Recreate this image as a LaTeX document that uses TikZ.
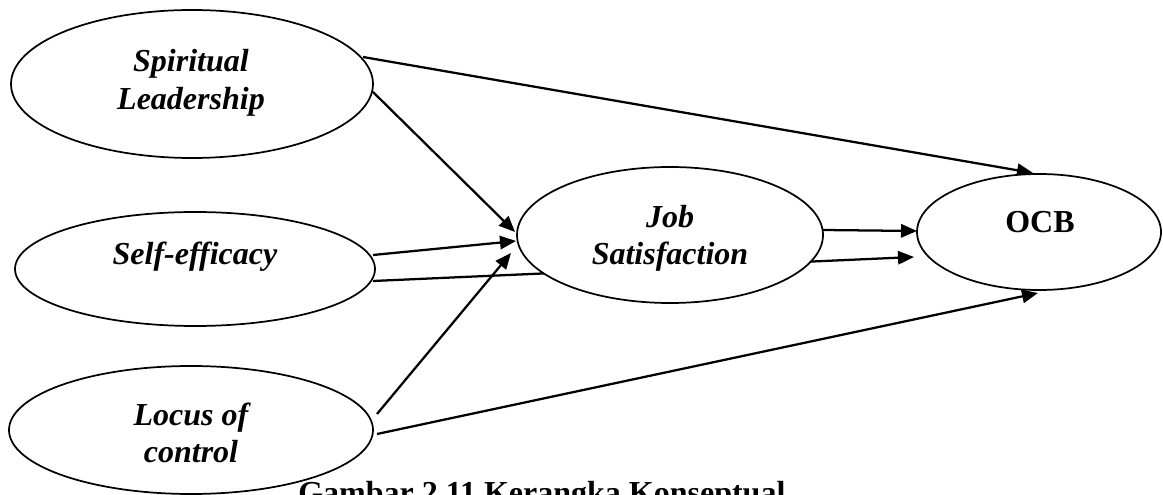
\documentclass[tikz,border=0pt]{standalone}
\usepackage{fontspec}
\setmainfont{Liberation Serif}
\usetikzlibrary{arrows.meta,calc,backgrounds,shapes.geometric}
\begin{document}
\begin{tikzpicture}[x=0.75pt,y=-0.75pt,
  oval/.style={ellipse, draw, line width=1.3pt, fill=white, inner sep=0pt},
  lbl/.style={font=\bfseries\itshape\fontsize{24}{28}\selectfont, inner sep=0pt, anchor=base},
  lblup/.style={font=\bfseries\fontsize{24}{28}\selectfont, inner sep=0pt, anchor=base},
  conn/.style={line width=1.7pt, -{Triangle[length=12pt,width=10pt]}}]
\useasboundingbox (0,0) rectangle (1163,495);
% ellipses
\node[oval, minimum width=271.5pt, minimum height=111pt] (sl) at (192,84) {};
\node[oval, minimum width=270pt, minimum height=85.5pt] (se) at (195,269) {};
\node[oval, minimum width=273pt, minimum height=96pt] (lc) at (191,430) {};
\node[oval, minimum width=229.5pt, minimum height=102pt] (js) at (670,235) {};
\node[oval, minimum width=183pt, minimum height=87pt] (ocb) at (1039,232) {};
% labels
\node[lbl] (sl1) at (191,72) {Spiritual};
\node[lbl] (sl2) at (191,110) {Leadership};
\node[lbl] (se1) at (195,265) {Self-efficacy};
\node[lbl] (lc1) at (191,425) {Locus of};
\node[lbl] (lc2) at (191,462) {control};
\node[lbl] (js1) at (670,228) {Job};
\node[lbl] (js2) at (670,265) {Satisfaction};
\node[lblup] (ocb1) at (1040,233) {OCB};
% connectors
\begin{pgfonlayer}{background}
\draw[conn] ($(sl)+(171,-27)$) -- ($(ocb)+(-6,-59)$);
\draw[conn] ($(sl)+(181,8)$) -- ($(js)+(-155,-3)$);
\draw[conn] ($(se)+(178,-14)$) -- ($(js)+(-154,6)$);
\draw[conn] ($(se)+(178,12)$) -- ($(ocb)+(-125,25)$);
\draw[conn] ($(js)+(153,-5)$) -- ($(ocb)+(-122,-1)$);
\draw[conn] ($(lc)+(186,-16)$) -- ($(js)+(-159,18)$);
\draw[conn] ($(lc)+(186,4)$) -- ($(ocb)+(-1,61)$);
\end{pgfonlayer}
% caption (cut off at the bottom, as in the reference)
\begin{scope}
\clip (0,0) rectangle (1163,495);
\node[lblup, anchor=base west] (cap) at (298,503) {Gambar 2.11 Kerangka Konseptual};
\end{scope}
\end{tikzpicture}
\end{document}
